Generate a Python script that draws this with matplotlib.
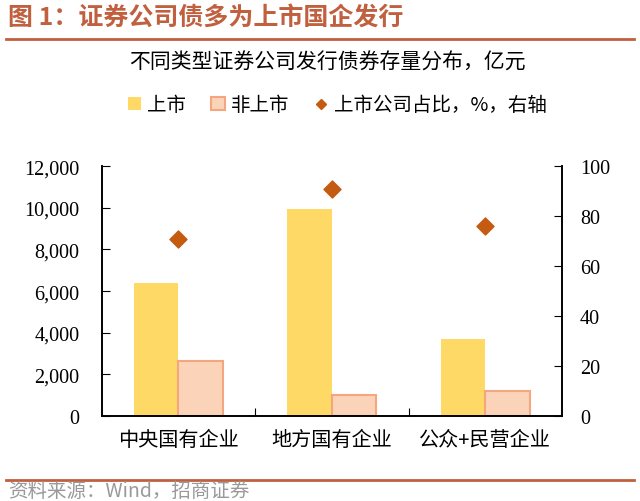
import matplotlib.pyplot as plt
import numpy as np
from matplotlib.lines import Line2D
from matplotlib.patches import Patch

plt.rcParams['font.family'] = ['Liberation Serif', 'Noto Sans CJK SC', 'DejaVu Sans']

categories = ['中央国有企业', '地方国有企业', '公众+民营企业']
listed = [6400, 9950, 3700]
unlisted = [2650, 1000, 1200]
listed_share = [71, 91, 76]

YELLOW = '#FFD966'
PINK_FILL = '#FBD3B8'
PINK_EDGE = '#F4A77F'
DIAMOND = '#C55A11'
RED = '#C0603F'

fig = plt.figure(figsize=(6.4, 5.02), dpi=100)
ax = fig.add_axes([0.159, 0.169, 0.719, 0.498])
ax2 = ax.twinx()

x = np.arange(len(categories))
w = 0.29
ax.bar(x - w / 2, listed, w, color=YELLOW, zorder=2)
ax.bar(x + w / 2, unlisted, w, color=PINK_FILL, edgecolor=PINK_EDGE, linewidth=1.5, zorder=2)
ax2.scatter(x, listed_share, marker='D', s=75, color=DIAMOND, zorder=3)

ax.set_xlim(-0.5, 2.5)
ax.set_ylim(0, 12000)
ax2.set_ylim(0, 100)
ax.set_yticks(range(0, 12001, 2000))
ax.set_yticklabels([f'{v:,}' for v in range(0, 12001, 2000)], fontsize=14.5)
ax2.set_yticks(range(0, 101, 20))
ax2.set_yticklabels([str(v) for v in range(0, 101, 20)], fontsize=14.5)

ax.set_xticks([0.5, 1.5])
ax.set_xticklabels([])
ax.set_xticks(x, minor=True)
ax.set_xticklabels(categories, minor=True, fontsize=14.5, family=['Noto Sans CJK SC'])
ax.tick_params(axis='x', which='minor', length=0, pad=9)
ax.tick_params(axis='x', which='major', direction='in', length=6)
ax.tick_params(axis='y', direction='in', length=6, pad=16)
ax2.tick_params(axis='y', direction='in', length=6, pad=13)

for a in (ax, ax2):
    a.spines['top'].set_visible(False)
    for s in ('left', 'right', 'bottom'):
        a.spines[s].set_linewidth(1.2)

handles = [
    Patch(facecolor=YELLOW, label='上市'),
    Patch(facecolor=PINK_FILL, edgecolor=PINK_EDGE, linewidth=1.5, label='非上市'),
    Line2D([], [], marker='D', color=DIAMOND, linestyle='none', markersize=5, label='上市公司占比，%，右轴'),
]
fig.legend(handles=handles, loc='center', bbox_to_anchor=(0.527, 0.789), ncol=3, frameon=False,
           prop={'family': ['Noto Sans CJK SC'], 'size': 14}, handlelength=0.7, handleheight=0.7,
           handletextpad=0.3, columnspacing=1.3)

fig.text(0.012, 0.965, '图 1：证券公司债多为上市国企发行', fontsize=18, fontweight='bold',
         color=RED, family=['Noto Sans CJK SC'], va='center')
fig.add_artist(Line2D([0.01, 0.99], [0.921, 0.921], color=RED, linewidth=2))
fig.text(0.511, 0.876, '不同类型证券公司发行债券存量分布，亿元', fontsize=15,
         family=['Noto Sans CJK SC'], ha='center', va='center')
fig.add_artist(Line2D([0.01, 0.99], [0.042, 0.042], color=RED, linewidth=2))
fig.text(0.012, 0.0, '资料来源：Wind，招商证券', fontsize=14, color='#999999',
         family=['Noto Sans CJK SC'], va='bottom')

fig.savefig('out.png', dpi=100)
